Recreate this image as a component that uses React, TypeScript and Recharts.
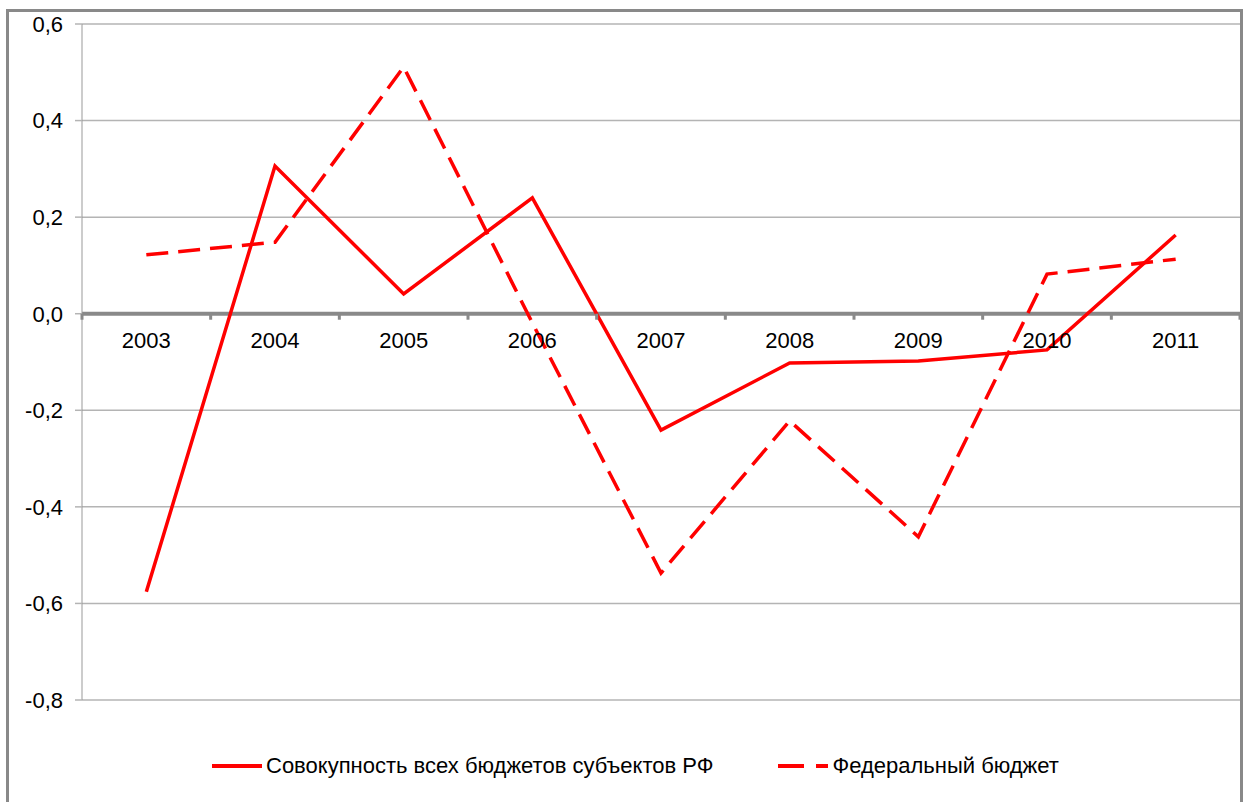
import React from "react";
import {
  CartesianGrid,
  Legend,
  Line,
  LineChart,
  ReferenceLine,
  XAxis,
  YAxis,
} from "recharts";

// Years on the category axis
const years = ["2003", "2004", "2005", "2006", "2007", "2008", "2009", "2010", "2011"];

// Совокупность всех бюджетов субъектов РФ
const regionalBudgets = [-0.576, 0.306, 0.041, 0.24, -0.241, -0.102, -0.098, -0.075, 0.163];

// Федеральный бюджет
const federalBudget = [0.122, 0.148, 0.511, -0.019, -0.537, -0.222, -0.462, 0.082, 0.113];

const yTicks = [-0.8, -0.6, -0.4, -0.2, 0, 0.2, 0.4, 0.6];

const SERIES_SOLID = "Совокупность всех бюджетов субъектов РФ";
const SERIES_DASHED = "Федеральный бюджет";

const chartData = years.map((year, i) => ({
  year,
  regional: regionalBudgets[i],
  federal: federalBudget[i],
}));

const WIDTH = 1246;
const HEIGHT = 802;
const MARGIN = { top: 24, right: 6, bottom: 0, left: 0 };
const Y_AXIS_WIDTH = 82;
const LEGEND_HEIGHT = 72;
const X_AXIS_HEIGHT = 30;
const Y_MIN = -0.8;
const Y_MAX = 0.6;

const plotWidth = WIDTH - MARGIN.left - MARGIN.right - Y_AXIS_WIDTH;
const plotHeight = HEIGHT - MARGIN.top - MARGIN.bottom - LEGEND_HEIGHT - X_AXIS_HEIGHT;
const band = plotWidth / years.length;
const zeroY = MARGIN.top + (plotHeight * Y_MAX) / (Y_MAX - Y_MIN);

const FONT = '"Liberation Sans", Arial, sans-serif';
const RED = "#ff0000";
const AXIS_GRAY = "#898989";

const formatTick = (v: number) => v.toFixed(1).replace(".", ",");

function YearTick(props: any) {
  const { x, index, payload } = props;
  const last = index === years.length - 1;
  return (
    <g>
      <line x1={x - band / 2} x2={x - band / 2} y1={zeroY} y2={zeroY + 6} stroke={AXIS_GRAY} strokeWidth={3} />
      {last && (
        <line x1={x + band / 2} x2={x + band / 2} y1={zeroY} y2={zeroY + 6} stroke={AXIS_GRAY} strokeWidth={3} />
      )}
      <text x={x} y={zeroY + 34} textAnchor="middle" fontSize={22} fontFamily={FONT} fill="#000">
        {payload.value}
      </text>
    </g>
  );
}

function LegendContent() {
  const item = (dash: string | undefined, label: string, gapLeft: number) => (
    <div style={{ display: "flex", alignItems: "center", marginLeft: gapLeft }}>
      <svg width={52} height={10}>
        <line x1={1} x2={51} y1={5} y2={5} stroke={RED} strokeWidth={4} strokeDasharray={dash} />
      </svg>
      <span style={{ marginLeft: 3, fontSize: 22, fontFamily: FONT, color: "#000" }}>{label}</span>
    </div>
  );
  return (
    <div style={{ display: "flex", alignItems: "center", height: LEGEND_HEIGHT, paddingLeft: 211 }}>
      {item(undefined, SERIES_SOLID, 0)}
      {item("26 12", SERIES_DASHED, 64)}
    </div>
  );
}

export default function App() {
  return (
    <div style={{ position: "absolute", left: 0, top: 0, width: WIDTH, height: HEIGHT, overflow: "hidden", background: "#fff" }}>
      <div
        style={{
          position: "absolute",
          left: 6,
          top: 9,
          width: 1237,
          height: 900,
          boxSizing: "border-box",
          border: `3px solid ${AXIS_GRAY}`,
        }}
      />
      <div style={{ position: "absolute", left: 0, top: 0 }}>
        <LineChart width={WIDTH} height={HEIGHT} data={chartData} margin={MARGIN}>
          <CartesianGrid vertical={false} stroke="#b4b4b4" strokeWidth={1.5} />
          <XAxis
            dataKey="year"
            height={X_AXIS_HEIGHT}
            axisLine={false}
            tickLine={false}
            padding={{ left: band / 2, right: band / 2 }}
            tick={<YearTick />}
            interval={0}
          />
          <YAxis
            width={Y_AXIS_WIDTH}
            domain={[Y_MIN, Y_MAX]}
            ticks={yTicks}
            tickFormatter={formatTick}
            axisLine={{ stroke: "#999", strokeWidth: 1 }}
            tickLine={{ stroke: "#b4b4b4", strokeWidth: 1.5 }}
            tickSize={7}
            tickMargin={12}
            tick={{ fontSize: 22, fontFamily: FONT, fill: "#000" }}
          />
          <ReferenceLine y={0} stroke={AXIS_GRAY} strokeWidth={4} />
          <Line
            dataKey="regional"
            name={SERIES_SOLID}
            stroke={RED}
            strokeWidth={3.5}
            dot={false}
            isAnimationActive={false}
          />
          <Line
            dataKey="federal"
            name={SERIES_DASHED}
            stroke={RED}
            strokeWidth={3.5}
            strokeDasharray="22 10"
            dot={false}
            isAnimationActive={false}
          />
          <Legend verticalAlign="bottom" height={LEGEND_HEIGHT} content={<LegendContent />} />
        </LineChart>
      </div>
    </div>
  );
}
